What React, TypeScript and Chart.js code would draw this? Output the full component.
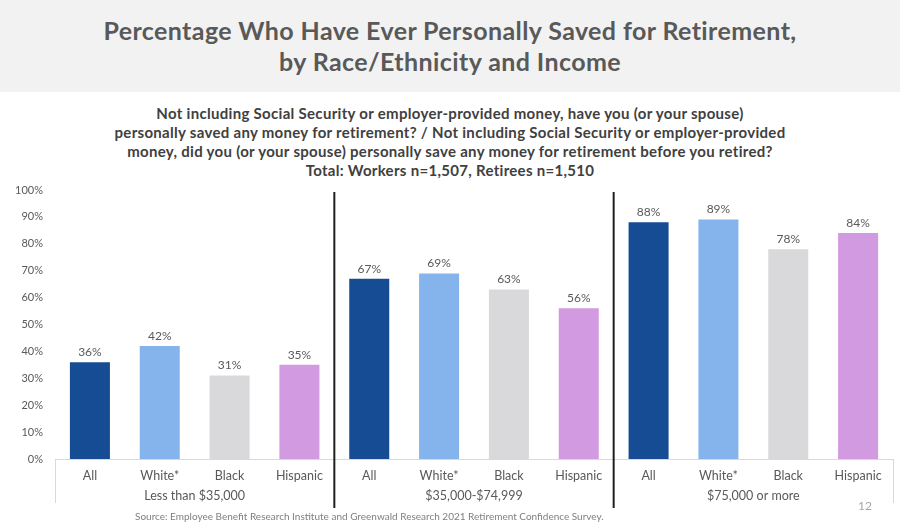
import React, { useEffect, useRef } from "react";
import { Chart, registerables } from "chart.js";

Chart.register(...registerables);

const races = ["All", "White*", "Black", "Hispanic"];
const incomeGroups = ["Less than $35,000", "$35,000-$74,999", "$75,000 or more"];
const lessThan35k = [36, 42, 31, 35];
const from35kTo75k = [67, 69, 63, 56];
const over75k = [88, 89, 78, 84];
const raceColors = ["#164c93", "#85b4ed", "#d9d9dc", "#d29ae0"];
const yTicks = [0, 10, 20, 30, 40, 50, 60, 70, 80, 90, 100];

const titleLines = [
  "Percentage Who Have Ever Personally Saved for Retirement,",
  "by Race/Ethnicity and Income",
];
const subtitleLines = [
  "Not including Social Security or employer-provided money, have you (or your spouse)",
  "personally saved any money for retirement? / Not including Social Security or employer-provided",
  "money, did you (or your spouse) personally save any money for retirement before you retired?",
  "Total: Workers n=1,507, Retirees n=1,510",
];
const sourceText =
  "Source: Employee Benefit Research Institute and Greenwald Research 2021 Retirement Confidence Survey.";
const pageNumber = "12";

const groupValues = [lessThan35k, from35kTo75k, over75k];
const labels: string[] = [];
const values: number[] = [];
const colors: string[] = [];
groupValues.forEach((g) => {
  g.forEach((v, i) => {
    labels.push(races[i]);
    values.push(v);
    colors.push(raceColors[i]);
  });
});

const FONT = "Lato, 'Open Sans', sans-serif";

const decorPlugin = {
  id: "decor",
  afterDatasetsDraw(chart: any) {
    const ctx = chart.ctx;
    const x = chart.scales.x;
    const y = chart.scales.y;
    const area = chart.chartArea;
    const meta = chart.getDatasetMeta(0);
    ctx.save();
    // data labels
    ctx.fillStyle = "#595959";
    ctx.font = "12px " + FONT;
    ctx.textAlign = "center";
    ctx.textBaseline = "bottom";
    meta.data.forEach((bar: any, i: number) => {
      ctx.fillText(values[i] + "%", bar.x, bar.y - 4);
    });
    const n = races.length;
    const half = (x.getPixelForValue(1) - x.getPixelForValue(0)) / 2;
    // edge ticks
    ctx.strokeStyle = "#d9d9d9";
    ctx.lineWidth = 1;
    const leftEdge = x.getPixelForValue(0) - half;
    const rightEdge = x.getPixelForValue(labels.length - 1) + half;
    [leftEdge, rightEdge].forEach((px) => {
      ctx.beginPath();
      ctx.moveTo(Math.round(px) + 0.5, area.bottom);
      ctx.lineTo(Math.round(px) + 0.5, area.bottom + 44);
      ctx.stroke();
    });
    // separators
    ctx.strokeStyle = "#1f1f1f";
    ctx.lineWidth = 2;
    for (let g = 1; g < incomeGroups.length; g++) {
      const px = (x.getPixelForValue(g * n - 1) + x.getPixelForValue(g * n)) / 2;
      ctx.beginPath();
      ctx.moveTo(px, y.getPixelForValue(100) + 2);
      ctx.lineTo(px, area.bottom + 49);
      ctx.stroke();
    }
    // group labels
    ctx.fillStyle = "#595959";
    ctx.font = "12.5px " + FONT;
    ctx.textBaseline = "middle";
    incomeGroups.forEach((name, g) => {
      const cx = (x.getPixelForValue(g * n) + x.getPixelForValue(g * n + n - 1)) / 2;
      ctx.fillText(name, cx, area.bottom + 37);
    });
    ctx.restore();
  },
};

export default function App() {
  const ref = useRef<HTMLCanvasElement>(null);
  useEffect(() => {
    if (!ref.current) return;
    const chart = new Chart(ref.current, {
      type: "bar",
      data: {
        labels,
        datasets: [
          {
            data: values,
            backgroundColor: colors,
            borderWidth: 0,
            barPercentage: 0.573,
            categoryPercentage: 1,
          },
        ],
      },
      options: {
        animation: false,
        responsive: false,
        layout: { padding: { top: 10, right: 7, bottom: 0, left: 0 } },
        plugins: { legend: { display: false }, tooltip: { enabled: false } },
        scales: {
          x: {
            grid: { display: false, drawTicks: false },
            border: { display: true, color: "#d9d9d9", width: 1 },
            ticks: {
              color: "#595959",
              font: { size: 12.5, family: FONT },
              padding: 9,
              maxRotation: 0,
              autoSkip: false,
            },
            afterFit(scale: any) {
              scale.height = 72;
            },
          },
          y: {
            min: 0,
            max: 100,
            afterBuildTicks(scale: any) {
              scale.ticks = yTicks.map((v) => ({ value: v }));
            },
            grid: { display: false, drawTicks: false },
            border: { display: false },
            ticks: {
              color: "#595959",
              font: { size: 11, family: FONT },
              padding: 12,
              callback: (v: any) => v + "%",
            },
            afterFit(scale: any) {
              scale.width = 55;
              scale.paddingTop = 0;
              scale.paddingBottom = 0;
            },
          },
        },
      },
      plugins: [decorPlugin],
    });
    return () => chart.destroy();
  }, []);

  return (
    <div
      style={{
        position: "absolute",
        left: 0,
        top: 0,
        width: 900,
        height: 531,
        background: "#ffffff",
        overflow: "hidden",
        fontFamily: FONT,
      }}
    >
      <div
        style={{
          position: "absolute",
          left: 0,
          top: 0,
          width: 900,
          height: 92,
          background: "#f2f2f2",
        }}
      />
      <div
        style={{
          position: "absolute",
          left: 0,
          top: 15,
          width: 900,
          textAlign: "center",
          color: "#595959",
          fontWeight: 700,
          fontSize: 25,
          letterSpacing: "0.4px",
          lineHeight: "31px",
        }}
      >
        {titleLines.map((l, i) => (
          <div key={i}>{l}</div>
        ))}
      </div>
      <div
        style={{
          position: "absolute",
          left: 0,
          top: 104,
          width: 900,
          textAlign: "center",
          color: "#404040",
          fontWeight: 700,
          fontSize: 15,
          letterSpacing: "0.3px",
          lineHeight: "19px",
        }}
      >
        {subtitleLines.map((l, i) => (
          <div key={i}>{l}</div>
        ))}
      </div>
      <div style={{ position: "absolute", left: 0, top: 180, width: 900, height: 351 }}>
        <canvas ref={ref} width={900} height={351} style={{ width: 900, height: 351 }} />
      </div>
      <div
        style={{
          position: "absolute",
          left: 135,
          top: 510,
          fontSize: 10,
          color: "#7f7f7f",
          whiteSpace: "nowrap",
        }}
      >
        {sourceText}
      </div>
      <div
        style={{
          position: "absolute",
          left: 858,
          top: 498,
          fontSize: 12,
          color: "#a6a6a6",
        }}
      >
        {pageNumber}
      </div>
    </div>
  );
}
